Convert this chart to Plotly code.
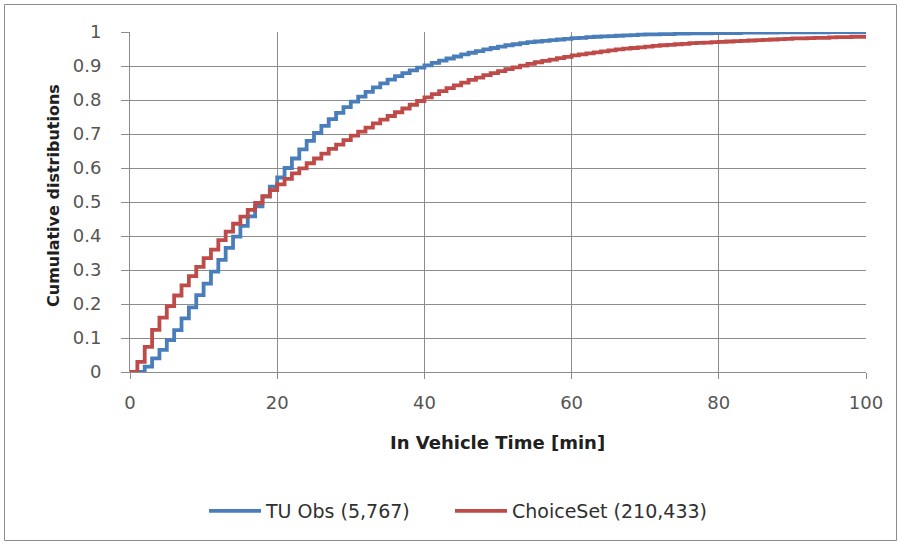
import plotly.graph_objects as go

minutes = list(range(0, 101))

tu_obs = [
    0, 0, 0.016, 0.04, 0.065, 0.094, 0.123, 0.158, 0.19, 0.226,
    0.26, 0.295, 0.33, 0.365, 0.398, 0.43, 0.458, 0.487, 0.516, 0.545,
    0.572, 0.60, 0.628, 0.655, 0.68, 0.703, 0.724, 0.744, 0.762, 0.779,
    0.795, 0.81, 0.824, 0.837, 0.849, 0.86, 0.87, 0.879, 0.887, 0.895,
    0.902, 0.909, 0.916, 0.922, 0.928, 0.934, 0.939, 0.944, 0.949, 0.953,
    0.957, 0.961, 0.964, 0.967, 0.970, 0.972, 0.974, 0.976, 0.978, 0.980,
    0.982, 0.983, 0.985, 0.986, 0.987, 0.988, 0.989, 0.990, 0.991, 0.992,
    0.993, 0.993, 0.994, 0.994, 0.995, 0.995, 0.996, 0.996, 0.996, 0.997,
    0.997, 0.997, 0.997, 0.998, 0.998, 0.998, 0.998, 0.998, 0.999, 0.999,
    0.999, 0.999, 0.999, 0.999, 0.999, 1.0, 1.0, 1.0, 1.0, 1.0, 1.0,
]

choice_set = [
    0, 0.03, 0.074, 0.124, 0.16, 0.194, 0.225, 0.255, 0.282, 0.309,
    0.335, 0.36, 0.388, 0.413, 0.436, 0.457, 0.477, 0.497, 0.517, 0.535,
    0.552, 0.568, 0.584, 0.599, 0.614, 0.628, 0.642, 0.656, 0.669, 0.682,
    0.695, 0.707, 0.719, 0.731, 0.742, 0.753, 0.764, 0.775, 0.786, 0.797,
    0.808, 0.817, 0.826, 0.835, 0.843, 0.851, 0.859, 0.866, 0.873, 0.879,
    0.885, 0.891, 0.896, 0.901, 0.906, 0.911, 0.915, 0.919, 0.923, 0.927,
    0.931, 0.934, 0.937, 0.940, 0.943, 0.946, 0.949, 0.951, 0.953, 0.955,
    0.957, 0.959, 0.961, 0.962, 0.964, 0.965, 0.967, 0.968, 0.969, 0.970,
    0.971, 0.972, 0.973, 0.974, 0.975, 0.976, 0.977, 0.978, 0.979, 0.980,
    0.981, 0.981, 0.982, 0.983, 0.983, 0.984, 0.985, 0.985, 0.986, 0.986,
    0.987,
]

series_names = ["TU Obs (5,767)", "ChoiceSet (210,433)"]
series_colors = ["#4A7EBB", "#BE4B48"]

x_ticks = [0, 20, 40, 60, 80, 100]
y_ticks = [0, 0.1, 0.2, 0.3, 0.4, 0.5, 0.6, 0.7, 0.8, 0.9, 1]
y_tick_labels = ["0", "0.1", "0.2", "0.3", "0.4", "0.5", "0.6", "0.7", "0.8", "0.9", "1"]
x_title = "In Vehicle Time [min]"
y_title = "Cumulative distributions"

FONT = "DejaVu Sans"
TICK_COLOR = "#555555"

L, T, W, H = 130, 32, 736, 340

fig = go.Figure()
legend_ids = ["legend", "legend2"]
for name, vals, col, lg in zip(series_names, [tu_obs, choice_set], series_colors, legend_ids):
    fig.add_trace(go.Scatter(
        x=minutes, y=vals, name=name, mode="lines", legend=lg,
        line=dict(color=col, width=3.8, shape="hv"),
    ))

legend_common = dict(
    orientation="h", xanchor="left",
    y=(T + H - 511) / H, yanchor="middle",
    font=dict(family=FONT, size=19, color="#303030"),
    itemwidth=52, bgcolor="rgba(0,0,0,0)",
)

fig.update_layout(
    width=901, height=545,
    margin=dict(l=L, r=901 - L - W, t=T, b=545 - T - H),
    paper_bgcolor="white", plot_bgcolor="white",
    font=dict(family=FONT, color=TICK_COLOR, size=15),
    showlegend=True,
    legend=dict(x=(204 - L) / W, **legend_common),
    legend2=dict(x=(450 - L) / W, **legend_common),
    xaxis=dict(
        range=[0, 100], tickvals=x_ticks, showgrid=True,
        gridcolor="#8C8C8C", gridwidth=1,
        showline=True, linecolor="#8C8C8C", linewidth=1,
        ticks="outside", ticklen=6, tickcolor="#8C8C8C",
        zeroline=False, fixedrange=True,
        tickfont=dict(family=FONT, size=18, color=TICK_COLOR),
        ticklabelstandoff=8,
    ),
    yaxis=dict(
        range=[0, 1], tickvals=y_ticks, ticktext=y_tick_labels, showgrid=True,
        gridcolor="#8C8C8C", gridwidth=1,
        showline=True, linecolor="#8C8C8C", linewidth=1,
        ticks="outside", ticklen=8, tickcolor="#8C8C8C",
        zeroline=False, fixedrange=True,
        tickfont=dict(family=FONT, size=18, color=TICK_COLOR),
        ticklabelstandoff=16,
    ),
    annotations=[
        dict(text="<b>" + x_title + "</b>", xref="paper", yref="paper",
             x=(497 - L) / W, y=(T + H - 442) / H, xanchor="center", yanchor="middle",
             showarrow=False, font=dict(family=FONT, size=18, color="#202020")),
        dict(text="<b>" + y_title + "</b>", xref="paper", yref="paper",
             x=(54 - L) / W, y=(T + H - 196) / H, xanchor="center", yanchor="middle",
             textangle=-90, showarrow=False,
             font=dict(family=FONT, size=16, color="#202020")),
    ],
    shapes=[dict(
        type="rect", xref="paper", yref="paper",
        x0=(4.5 - L) / W, x1=(896.5 - L) / W,
        y0=(T + H - 540.5) / H, y1=(T + H - 4.5) / H,
        line=dict(color="#8C8C8C", width=1), fillcolor="rgba(0,0,0,0)",
        layer="below",
    )],
)

fig.write_html("out.html", config={"displayModeBar": False},
               post_script="document.body.style.margin='0px';")
